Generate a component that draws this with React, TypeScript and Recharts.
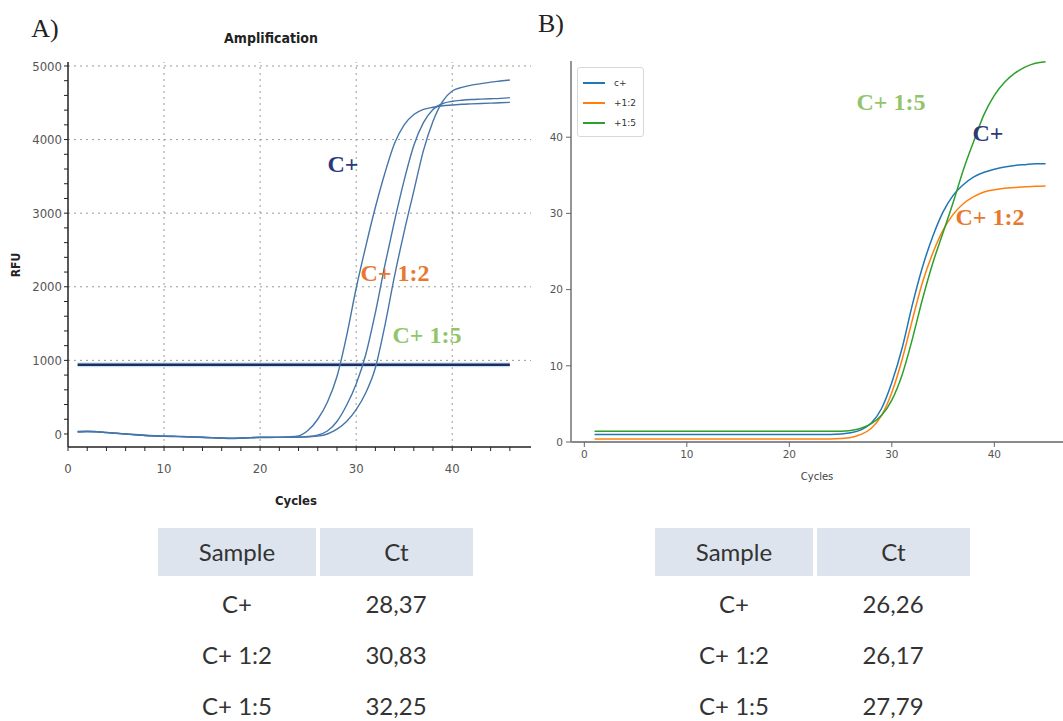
import React from "react";
import { LineChart, Line, XAxis, YAxis, ReferenceLine, Legend } from "recharts";

// ---- panel A (instrument output, RFU) ----
const cyclesA = [1, 2, 3, 4, 5, 6, 7, 8, 9, 10, 11, 12, 13, 14, 15, 16, 17, 18, 19, 20, 21, 22, 23, 24, 25, 26, 27, 28, 29, 30, 31, 32, 33, 34, 35, 36, 37, 38, 39, 40, 41, 42, 43, 44, 45, 46];
const rfuCPos = [30, 35, 30, 20, 10, 0, -10, -20, -25, -30, -30, -35, -40, -45, -50, -55, -60, -55, -50, -45, -45, -45, -40, -25, 50, 200, 430, 780, 1330, 1980, 2550, 3080, 3550, 3950, 4200, 4340, 4410, 4440, 4460, 4470, 4480, 4485, 4490, 4495, 4500, 4505];
const rfu12 = [25, 30, 28, 18, 8, -2, -12, -20, -28, -32, -35, -38, -42, -48, -52, -58, -62, -58, -52, -48, -48, -46, -44, -40, -35, -15, 40, 170, 390, 680, 1080, 1650, 2300, 2900, 3450, 3920, 4230, 4410, 4490, 4520, 4535, 4545, 4550, 4555, 4560, 4570];
const rfu15 = [35, 38, 32, 22, 12, 2, -8, -18, -24, -28, -32, -36, -40, -44, -50, -54, -58, -55, -50, -46, -46, -46, -45, -44, -40, -30, 0, 65, 170, 330, 560, 900, 1480, 2150, 2750, 3300, 3850, 4250, 4520, 4660, 4710, 4740, 4760, 4780, 4795, 4810];
const thresholdA = 940;
const xTicksA = [0, 2, 4, 6, 8, 10, 12, 14, 16, 18, 20, 22, 24, 26, 28, 30, 32, 34, 36, 38, 40, 42, 44, 46];
const yTicksA = [0, 200, 400, 600, 800, 1000, 1200, 1400, 1600, 1800, 2000, 2200, 2400, 2600, 2800, 3000, 3200, 3400, 3600, 3800, 4000, 4200, 4400, 4600, 4800, 5000];
const gridXA = [10, 20, 30, 40];
const gridYA = [1000, 2000, 3000, 4000, 5000];

// ---- panel B (fitted curves) ----
const cyclesB = [1, 2, 3, 4, 5, 6, 7, 8, 9, 10, 11, 12, 13, 14, 15, 16, 17, 18, 19, 20, 21, 22, 23, 24, 25, 26, 27, 28, 29, 30, 31, 32, 33, 34, 35, 36, 37, 38, 39, 40, 41, 42, 43, 44, 45];
const fitCPos = [1, 1, 1, 1, 1, 1, 1, 1, 1, 1, 1, 1, 1, 1, 1, 1, 1, 1, 1, 1, 1, 1, 1, 1, 1.05, 1.2, 1.6, 2.5, 4.4, 7.8, 12.3, 18, 23, 27, 30.2, 32.4, 33.8, 34.8, 35.4, 35.8, 36.1, 36.3, 36.4, 36.5, 36.5];
const fit12 = [0.4, 0.4, 0.4, 0.4, 0.4, 0.4, 0.4, 0.4, 0.4, 0.4, 0.4, 0.4, 0.4, 0.4, 0.4, 0.4, 0.4, 0.4, 0.4, 0.4, 0.4, 0.4, 0.4, 0.4, 0.45, 0.6, 1, 1.8, 3.5, 6.5, 10.8, 16, 21, 24.8, 27.8, 29.9, 31.3, 32.2, 32.8, 33.1, 33.3, 33.4, 33.5, 33.55, 33.6];
const fit15 = [1.4, 1.4, 1.4, 1.4, 1.4, 1.4, 1.4, 1.4, 1.4, 1.4, 1.4, 1.4, 1.4, 1.4, 1.4, 1.4, 1.4, 1.4, 1.4, 1.4, 1.4, 1.4, 1.4, 1.4, 1.4, 1.5, 1.8, 2.4, 3.5, 5.5, 8.8, 13.5, 18.8, 23.5, 27.5, 31.5, 35.8, 39.5, 43, 45.5, 47.2, 48.4, 49.2, 49.7, 49.9];
const ticksB = [0, 10, 20, 30, 40];
const seriesB = [
  { key: "cpos", name: "c+", color: "#1f77b4" },
  { key: "d12", name: "+1:2", color: "#ff7f0e" },
  { key: "d15", name: "+1:5", color: "#2ca02c" },
];

// ---- Ct tables ----
const samples = ["C+", "C+ 1:2", "C+ 1:5"];
const ctA = ["28,37", "30,83", "32,25"];
const ctB = ["26,26", "26,17", "27,79"];

const dataA = cyclesA.map((c, i) => ({ cycle: c, cpos: rfuCPos[i], d12: rfu12[i], d15: rfu15[i], thr: thresholdA }));
const dataB = cyclesB.map((c, i) => ({ cycle: c, cpos: fitCPos[i], d12: fit12[i], d15: fit15[i] }));

const condensed = "'DejaVu Sans Condensed', 'DejaVu Sans', sans-serif";
const serif = "'Liberation Serif', 'Times New Roman', serif";
const sans = "'DejaVu Sans', sans-serif";
const tableFont = "Lato, 'Open Sans', sans-serif";

function Note({ x, y, color, text }: { x: number; y: number; color: string; text: string }) {
  return (
    <div style={{ position: "absolute", left: x, top: y, transform: "translate(-50%, -50%)", color, fontFamily: serif, fontWeight: 700, fontSize: 24, lineHeight: 1, whiteSpace: "nowrap" }}>
      {text}
    </div>
  );
}

function Txt({ x, y, text, style }: { x: number; y: number; text: string; style: React.CSSProperties }) {
  return (
    <div style={{ position: "absolute", left: x, top: y, transform: "translate(-50%, -50%)", lineHeight: 1, whiteSpace: "nowrap", ...style }}>
      {text}
    </div>
  );
}

function CtTable({ left, values }: { left: number; values: string[] }) {
  const cell: React.CSSProperties = { position: "absolute", top: 528, height: 48, background: "#dde4ee", display: "flex", alignItems: "center", justifyContent: "center" };
  const font: React.CSSProperties = { fontFamily: tableFont, fontSize: 24, color: "#333", lineHeight: 0.85 };
  return (
    <>
      <div style={{ ...cell, ...font, left, width: 158 }}>Sample</div>
      <div style={{ ...cell, ...font, left: left + 162, width: 153 }}>Ct</div>
      {samples.map((s, i) => (
        <React.Fragment key={s}>
          <Txt x={left + 79} y={604 + i * 51} text={s} style={font} />
          <Txt x={left + 238} y={604 + i * 51} text={values[i]} style={font} />
        </React.Fragment>
      ))}
    </>
  );
}

function LegendB() {
  return (
    <div style={{ border: "1px solid #d8d8d8", borderRadius: 3, background: "#fff", padding: "5px 6px 3px 5px", width: 54 }}>
      {seriesB.map((s) => (
        <div key={s.key} style={{ display: "flex", alignItems: "center", height: 20 }}>
          <span style={{ display: "inline-block", width: 22, height: 2, background: s.color, marginRight: 9 }} />
          <span style={{ fontFamily: sans, fontSize: 9, color: "#333" }}>{s.name}</span>
        </div>
      ))}
    </div>
  );
}

export default function App() {
  const axisA = { stroke: "#222", strokeWidth: 1.5 };
  const tickA = { fill: "#555", fontSize: 13, fontFamily: condensed };
  const axisB = { stroke: "#8a8a8a", strokeWidth: 1.8 };
  const tickB = { fill: "#555", fontSize: 10.5, fontFamily: sans };
  return (
    <div style={{ position: "absolute", left: 0, top: 0, width: 1063, height: 721, background: "#fff", overflow: "hidden" }}>
      {/* Panel A */}
      <div style={{ position: "absolute", left: 0, top: 0 }}>
        <LineChart width={540} height={520} data={dataA} margin={{ top: 62, right: 9, bottom: 0, left: 0 }}>
          <XAxis dataKey="cycle" type="number" domain={[0, 48.2]} ticks={xTicksA} interval={0} allowDataOverflow
            tickFormatter={(v) => (v % 10 === 0 ? String(v) : "")} axisLine={axisA} tickLine={{ stroke: "#222" }}
            tickSize={4} tickMargin={13} tick={tickA} height={73} />
          <XAxis xAxisId="top" orientation="top" type="number" domain={[0, 48.2]} height={0} tick={false} tickLine={false} axisLine={axisA} />
          <YAxis type="number" domain={[-177, 5054]} ticks={yTicksA} interval={0} allowDataOverflow
            tickFormatter={(v) => (v % 1000 === 0 ? String(v) : "")} axisLine={axisA} tickLine={{ stroke: "#222" }}
            tickSize={4} tickMargin={2} tick={tickA} width={68} />
          <YAxis yAxisId="right" orientation="right" type="number" domain={[-177, 5054]} width={0} tick={false} tickLine={false}
            axisLine={{ stroke: "#555", strokeDasharray: "2 2" }} />
          {gridXA.map((g) => (
            <ReferenceLine key={"gx" + g} x={g} stroke="#9a9a9a" strokeDasharray="2 4" />
          ))}
          {gridYA.map((g) => (
            <ReferenceLine key={"gy" + g} y={g} stroke="#9a9a9a" strokeDasharray="2 4" />
          ))}
          <Line dataKey="thr" stroke="#cfe2f5" strokeWidth={5} dot={false} isAnimationActive={false} />
          <Line dataKey="thr" stroke="#1c2f5c" strokeWidth={2.5} dot={false} isAnimationActive={false} />
          <Line type="monotone" dataKey="cpos" stroke="#4675aa" strokeWidth={1.4} dot={false} isAnimationActive={false} />
          <Line type="monotone" dataKey="d12" stroke="#4675aa" strokeWidth={1.4} dot={false} isAnimationActive={false} />
          <Line type="monotone" dataKey="d15" stroke="#4675aa" strokeWidth={1.4} dot={false} isAnimationActive={false} />
        </LineChart>
      </div>

      {/* Panel B */}
      <div style={{ position: "absolute", left: 530, top: 0 }}>
        <LineChart width={533} height={500} data={dataB} margin={{ top: 61, right: 0, bottom: 0, left: 0 }}>
          <XAxis dataKey="cycle" type="number" domain={[-1.3, 46.7]} ticks={ticksB} interval={0} allowDataOverflow
            axisLine={axisB} tickLine={{ stroke: "#666" }} tickSize={5} tickMargin={4} tick={tickB} height={58} />
          <XAxis xAxisId="top" orientation="top" type="number" domain={[-1.3, 46.7]} height={0} tick={false} tickLine={false} axisLine={axisB} />
          <YAxis type="number" domain={[0, 50]} ticks={ticksB} interval={0} allowDataOverflow
            axisLine={axisB} tickLine={{ stroke: "#666" }} tickSize={5} tickMargin={3} tick={tickB} width={41} />
          <Legend layout="vertical" align="center" verticalAlign="middle" content={LegendB}
            wrapperStyle={{ position: "absolute", left: 47, top: 67, width: "auto" }} />
          {seriesB.map((s) => (
            <Line key={s.key} type="monotone" name={s.name} dataKey={s.key} stroke={s.color} strokeWidth={1.5} dot={false} isAnimationActive={false} />
          ))}
        </LineChart>
      </div>

      {/* titles and labels */}
      <Txt x={45} y={29} text="A)" style={{ fontFamily: serif, fontSize: 26, color: "#222" }} />
      <Txt x={551} y={24} text="B)" style={{ fontFamily: serif, fontSize: 26, color: "#222" }} />
      <Txt x={271} y={38} text="Amplification" style={{ fontFamily: condensed, fontWeight: 700, fontSize: 14, color: "#222" }} />
      <Txt x={16} y={265} text="RFU" style={{ fontFamily: condensed, fontWeight: 700, fontSize: 12, color: "#222", transform: "translate(-50%, -50%) rotate(-90deg)" }} />
      <Txt x={296} y={500} text="Cycles" style={{ fontFamily: condensed, fontWeight: 700, fontSize: 13, color: "#222" }} />
      <Txt x={817} y={477} text="Cycles" style={{ fontFamily: sans, fontSize: 10, color: "#444" }} />

      <Note x={343} y={164} color="#2c3a7c" text="C+" />
      <Note x={395} y={273} color="#e8782e" text="C+ 1:2" />
      <Note x={427} y={335} color="#92c56a" text="C+ 1:5" />
      <Note x={891} y={102} color="#92c56a" text="C+ 1:5" />
      <Note x={988} y={133} color="#2c3a7c" text="C+" />
      <Note x={990} y={217} color="#e8782e" text="C+ 1:2" />

      <CtTable left={158} values={ctA} />
      <CtTable left={655} values={ctB} />
    </div>
  );
}
